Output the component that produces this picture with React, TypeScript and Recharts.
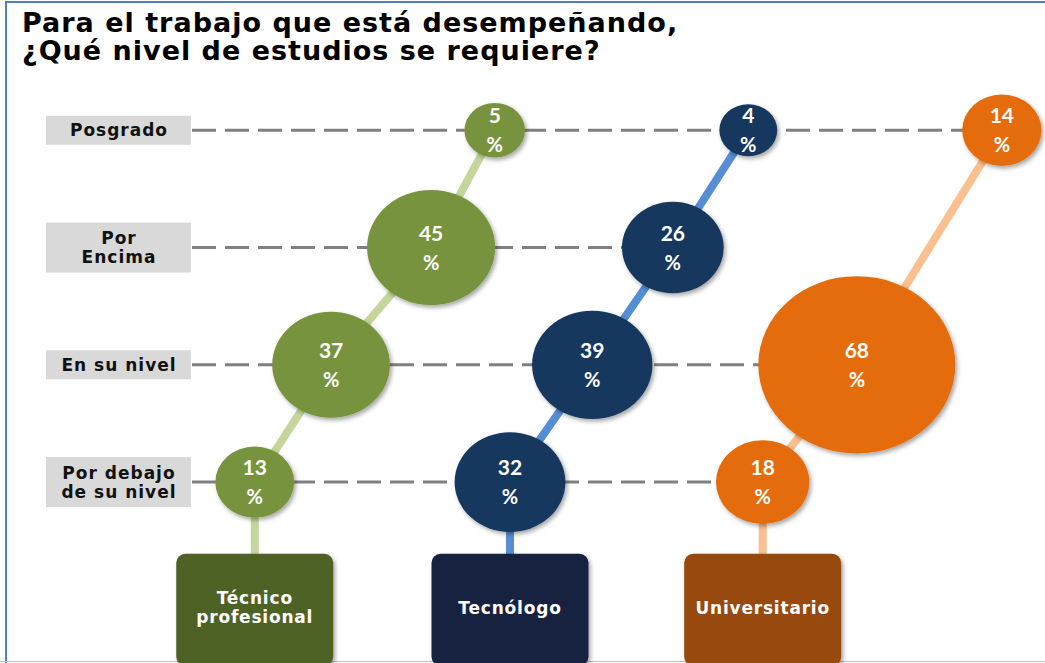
import React from 'react';
import { ScatterChart, Scatter, XAxis, YAxis, ZAxis } from 'recharts';

// ---- data ----
const levelLabels = ['Por debajo\nde su nivel', 'En su nivel', 'Por\nEncima', 'Posgrado']; // index = level (0 = lowest)
const levelTicks = [0, 1, 2, 3];
const categoryNames = ['Técnico\nprofesional', 'Tecnólogo', 'Universitario'];
const tecnicoValues = [13, 37, 45, 5];
const tecnologoValues = [32, 39, 26, 4];
const universitarioValues: (number | null)[] = [18, 68, null, 14];
// horizontal placement of each bubble along the (hidden) x axis, 0..100
const tecnicoX = [7.4, 16.4, 28.2, 35.7];
const tecnologoX = [37.5, 47.2, 56.7, 65.6];
const universitarioX = [67.3, 78.4, 88, 95.5];
const baseLevel = -0.62; // where each series starts (category box)

const palette = [
  { bubble: '#77933c', line: '#c3d69b', box: '#4f6228' },
  { bubble: '#17375e', line: '#558ed5', box: '#12243f' },
  { bubble: '#e46c0a', line: '#fac090', box: '#984807' },
];

type Pt = { x: number; y: number; z?: number; kind: 'base' | 'bubble'; name?: string };

function buildSeries(values: (number | null)[], xs: number[], name: string): Pt[] {
  const pts: Pt[] = [{ x: xs[0], y: baseLevel, kind: 'base', name, z: 10 }];
  values.forEach((v, i) => {
    if (v != null) pts.push({ x: xs[i], y: i, z: v, kind: 'bubble' });
  });
  return pts;
}

const series = [
  { data: buildSeries(tecnicoValues, tecnicoX, categoryNames[0]), zId: 'a' },
  { data: buildSeries(tecnologoValues, tecnologoX, categoryNames[1]), zId: 'a' },
  { data: buildSeries(universitarioValues, universitarioX, categoryNames[2]), zId: 'b' },
];

// dashed row lines: from the axis to the last bubble of each level
const rowLines = levelTicks.map((lvl) => {
  let maxX = 0;
  series.forEach((s) => s.data.forEach((p) => { if (p.kind === 'bubble' && p.y === lvl && p.x > maxX) maxX = p.x; }));
  return [{ x: 0, y: lvl }, { x: maxX, y: lvl }];
});

const labelFont = '"DejaVu Sans", Verdana, sans-serif';

const LevelTick = (props: any) => {
  const { x, y, payload } = props;
  const lines = String(levelLabels[payload.value] ?? '').split('\n');
  const h = lines.length > 1 ? 50 : 29;
  const cxText = x - 71;
  return (
    <g>
      <rect x={x - 144} y={y - h / 2} width={145} height={h} fill="#d9d9d9" />
      {lines.map((l, i) => (
        <text
          key={i}
          x={cxText}
          y={y + 6 + (i - (lines.length - 1) / 2) * 19}
          textAnchor="middle"
          fontFamily={labelFont}
          fontWeight={700}
          fontSize={17}
          letterSpacing={1}
          fill="#111"
        >
          {l}
        </text>
      ))}
    </g>
  );
};

const makeShape = (idx: number) => (props: any) => {
  const { cx, cy, width, payload } = props;
  const c = palette[idx];
  if (payload.kind === 'base') {
    const lines = String(payload.name).split('\n');
    const mid = cy + 53;
    return (
      <g>
        <rect x={cx - 78.5} y={cy - 1} width={157} height={112} rx={9} fill={c.box} filter="url(#softShadow)" />
        {lines.map((l, i) => (
          <text
            key={i}
            x={cx}
            y={mid + 6 + (i - (lines.length - 1) / 2) * 19}
            textAnchor="middle"
            fontFamily={labelFont}
            fontWeight={700}
            fontSize={17}
            letterSpacing={0.8}
            fill="#fff"
          >
            {l}
          </text>
        ))}
      </g>
    );
  }
  const rx = width / 2;
  const ry = rx * 0.9;
  return (
    <g>
      <ellipse cx={cx} cy={cy} rx={rx} ry={ry} fill={c.bubble} filter="url(#softShadow)" />
      <text x={cx} y={cy - 7} textAnchor="middle" fill="#fff" fontFamily="Lato, sans-serif" fontWeight={700} fontSize={21}>
        {payload.z}
      </text>
      <text x={cx} y={cy + 22} textAnchor="middle" fill="#fff" fontFamily="Lato, sans-serif" fontWeight={700} fontSize={20}>
        %
      </text>
    </g>
  );
};

const Empty = () => <g />;

export default function App() {
  return (
    <div style={{ position: 'absolute', left: 0, top: 0, width: 1045, height: 663, background: '#fff', overflow: 'hidden' }}>
      <svg width={0} height={0} style={{ position: 'absolute' }}>
        <defs>
          <filter id="softShadow" x="-20%" y="-20%" width="150%" height="150%">
            <feDropShadow dx="2" dy="2.5" stdDeviation="2" floodColor="#000" floodOpacity="0.35" />
          </filter>
        </defs>
      </svg>
      <div style={{ position: 'absolute', left: 5, top: 1, width: 1045, height: 664, borderLeft: '2px solid #4f81bd', borderTop: '2px solid #4f81bd' }} />
      <div style={{ position: 'absolute', left: 0, top: 661, width: 1045, height: 1, background: '#c0c0c0' }} />
      <div style={{ position: 'absolute', left: 0, top: 0 }}>
        <ScatterChart width={1045} height={663} margin={{ top: 13, right: 5, bottom: 5, left: 0 }}>
          <XAxis type="number" dataKey="x" domain={[0, 100]} hide />
          <YAxis
            type="number"
            dataKey="y"
            domain={[-1.5, 4]}
            ticks={levelTicks}
            interval={0}
            width={192}
            axisLine={false}
            tickLine={false}
            tickSize={0}
            tick={<LevelTick />}
          />
          <ZAxis zAxisId="a" type="number" dataKey="z" domain={[0, 100]} range={[1634, 26641]} />
          <ZAxis zAxisId="b" type="number" dataKey="z" domain={[10, 100]} range={[3044, 45626]} />
          <ZAxis zAxisId="row" type="number" dataKey="z" range={[10, 10]} />
          {rowLines.map((d, i) => (
            <Scatter
              key={'row' + i}
              data={d}
              zAxisId="row"
              line={{ stroke: '#808080', strokeWidth: 3, strokeDasharray: '24 9' }}
              lineType="joint"
              shape={Empty}
              isAnimationActive={false}
            />
          ))}
          {series.map((s, i) => (
            <Scatter
              key={'s' + i}
              data={s.data}
              zAxisId={s.zId}
              line={{ stroke: palette[i].line, strokeWidth: 8 }}
              lineType="joint"
              shape={makeShape(i)}
              isAnimationActive={false}
            />
          ))}
        </ScatterChart>
      </div>
      <div
        style={{
          position: 'absolute',
          left: 22,
          top: 9,
          fontFamily: labelFont,
          fontWeight: 700,
          fontSize: 27,
          lineHeight: '28px',
          letterSpacing: 1,
          color: '#000',
          whiteSpace: 'nowrap',
        }}
      >
        Para el trabajo que está desempeñando,
        <br />
        ¿Qué nivel de estudios se requiere?
      </div>
    </div>
  );
}
